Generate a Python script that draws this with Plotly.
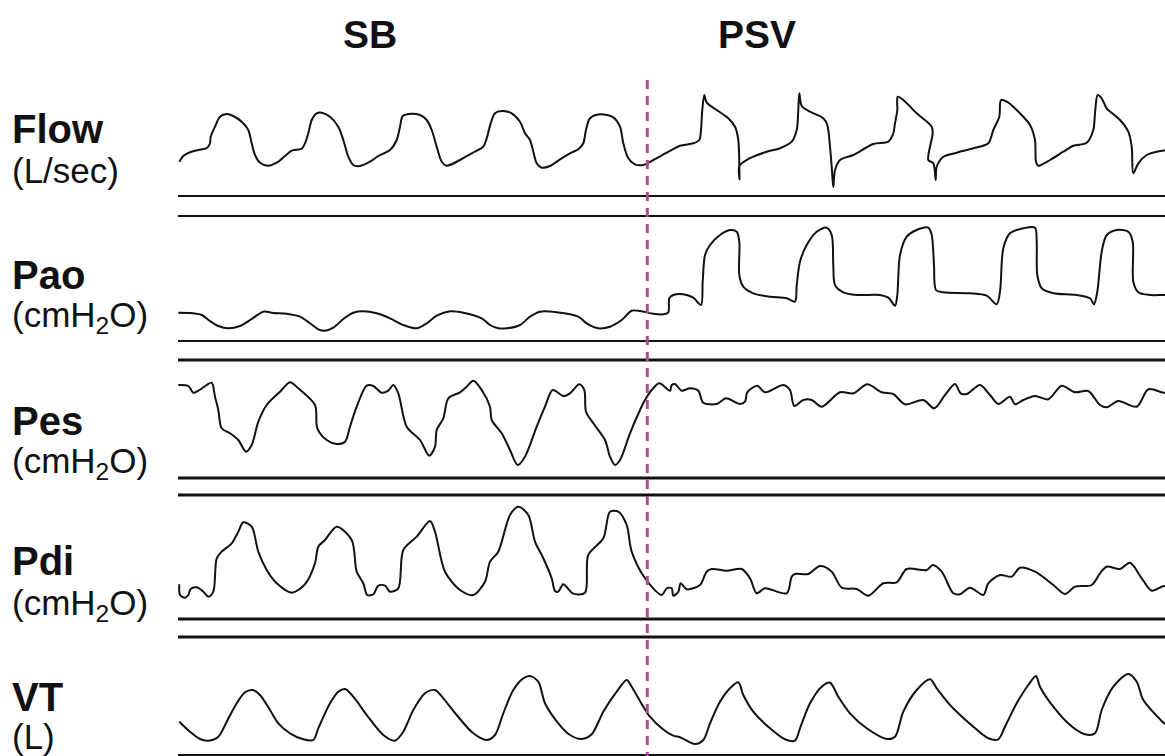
import plotly.graph_objects as go

flow_t = [0.013,0.053,0.12,0.203,0.293,0.32,0.327,0.37,0.42,0.487,0.553,0.637,0.703,0.737,0.77,0.82,0.903,0.987,
          1.07,1.137,1.237,1.27,1.303,1.337,1.387,1.437,1.52,1.603,1.653,1.703,1.753,1.82,1.92,2.003,2.12,2.187,
          2.22,2.247,2.303,2.42,2.487,2.537,2.587,2.637,2.687,2.82,2.937,3.053,3.087,3.127,3.17,3.237,3.337,3.42,
          3.47,3.52,3.553,3.587,3.637,3.72,3.82,3.92,4.003,4.053,4.08,4.12,4.22,4.353,4.42,4.453,4.503,4.57,
          4.653,4.753,4.887,5.02,5.153,5.213,5.23,5.243,5.263,5.287,5.387,5.503,5.57,5.603,5.615,5.613,5.687,
          5.753,5.887,6.02,6.137,6.187,6.203,6.213,6.237,6.32,6.453,6.493,6.52,6.537,6.553,6.57,6.62,6.753,
          6.953,7.103,7.153,7.17,7.193,7.197,7.253,7.387,7.537,7.547,7.503,7.553,7.577,7.587,7.653,7.787,7.953,
          8.103,8.153,8.213,8.23,8.287,8.42,8.52,8.57,8.58,8.603,8.72,8.853,8.953,9.087,9.153,9.17,9.197,9.237,
          9.287,9.42,9.503,9.537,9.553,9.603,9.687,9.837,9.87]
flow_v = [0.083,0.14,0.177,0.20,0.223,0.267,0.333,0.433,0.533,0.56,0.54,0.483,0.40,0.267,0.15,0.073,0.043,0.073,
          0.14,0.193,0.213,0.267,0.367,0.50,0.567,0.573,0.533,0.433,0.30,0.133,0.05,0.04,0.083,0.14,0.20,0.30,
          0.433,0.54,0.56,0.55,0.50,0.40,0.233,0.083,0.043,0.10,0.167,0.233,0.317,0.467,0.567,0.59,0.567,0.483,
          0.367,0.30,0.183,0.067,0.023,0.04,0.107,0.167,0.207,0.267,0.40,0.517,0.557,0.527,0.433,0.267,0.117,0.057,
          0.05,0.10,0.173,0.243,0.267,0.30,0.40,0.60,0.75,0.673,0.60,0.517,0.433,0.30,-0.093,0.04,0.10,
          0.133,0.183,0.217,0.283,0.40,0.60,0.767,0.64,0.583,0.517,0.45,0.233,0.033,-0.173,0.0,0.10,0.15,
          0.26,0.283,0.367,0.467,0.60,0.733,0.70,0.567,0.433,0.367,0.10,0.067,-0.10,0.033,0.133,0.173,0.217,
          0.267,0.40,0.533,0.70,0.683,0.567,0.45,0.30,0.083,0.043,0.10,0.183,0.243,0.273,0.40,0.567,0.75,0.717,
          0.617,0.50,0.383,0.233,-0.033,0.067,0.15,0.193,0.195]

pao_t = [0.003,0.12,0.237,0.32,0.403,0.503,0.62,0.737,0.853,0.953,1.087,1.22,1.32,1.403,1.47,1.553,1.653,1.753,
         1.853,1.987,2.12,2.253,2.387,2.487,2.587,2.72,2.853,3.037,3.12,3.203,3.287,3.42,3.52,3.62,3.787,4.003,
         4.087,4.203,4.32,4.437,4.537,4.62,4.753,4.853,4.903,4.913,4.953,5.053,5.153,5.23,5.247,5.27,5.32,5.42,
         5.52,5.587,5.613,5.613,5.653,5.753,5.92,6.087,6.17,6.187,6.22,6.287,6.387,6.487,6.537,6.553,6.57,6.653,
         6.787,7.02,7.103,7.17,7.193,7.22,7.287,7.387,7.503,7.537,7.56,7.58,7.653,7.92,8.087,8.187,8.22,8.253,
         8.32,8.453,8.57,8.587,8.593,8.637,8.753,8.987,9.12,9.16,9.193,9.237,9.287,9.387,9.503,9.547,9.553,
         9.603,9.72,9.837,9.87]
pao_v = [3.46,3.4,3.0,1.8,0.8,0.34,0.8,2.2,3.66,3.4,3.26,2.66,1.34,0.14,-0.14,0.46,2.2,3.46,
         3.74,3.34,2.34,1.0,0.34,1.34,2.86,3.74,3.46,2.34,1.0,0.34,0.34,1.0,2.66,3.66,3.54,2.66,
         1.34,0.34,0.66,2.0,3.86,3.8,3.26,3.14,3.54,6.34,7.0,7.14,6.46,5.0,9.66,15.0,17.0,19.0,
         20.0,19.66,17.66,11.0,8.66,7.34,6.66,6.34,5.66,9.0,13.66,17.0,19.66,20.46,19.0,13.0,9.0,7.54,
         7.0,7.0,6.46,4.86,7.0,15.0,18.66,20.0,20.46,19.0,13.0,8.0,7.54,7.34,6.86,5.14,7.66,16.34,
         19.34,20.34,20.46,17.66,11.0,8.34,7.34,7.0,6.34,5.14,7.66,15.66,19.0,20.0,19.66,17.66,9.66,
         7.54,7.0,7.0,7.0]

pes_t = [0.003,0.103,0.153,0.203,0.287,0.337,0.37,0.403,0.437,0.52,0.603,0.68,0.737,0.803,0.887,1.02,1.12,1.203,
         1.37,1.393,1.487,1.587,1.67,1.72,1.787,1.887,1.953,2.037,2.103,2.153,2.203,2.287,2.42,2.513,2.57,2.587,
         2.653,2.703,2.82,2.887,2.953,3.037,3.12,3.137,3.237,3.32,3.397,3.47,3.587,3.67,3.747,3.853,3.92,4.013,
         4.063,4.08,4.153,4.27,4.32,4.37,4.42,4.52,4.62,4.67,4.737,4.813,4.92,4.937,4.97,5.037,5.12,5.203,
         5.253,5.387,5.48,5.62,5.67,5.693,5.793,5.87,6.053,6.12,6.163,6.253,6.337,6.437,6.62,6.753,6.893,7.037,
         7.153,7.27,7.453,7.563,7.67,7.77,7.827,7.887,8.02,8.12,8.203,8.32,8.37,8.453,8.57,8.703,8.837,8.97,
         9.103,9.22,9.287,9.403,9.587,9.703,9.837,9.87]
pes_v = [-1.0,-1.2,-2.54,-2.14,-1.0,-0.54,-3.34,-6.0,-9.66,-10.66,-12.0,-14.34,-13.0,-8.34,-5.0,-2.34,-0.46,-1.66,
         -5.0,-9.66,-12.0,-12.8,-12.34,-9.34,-5.34,-1.14,-1.2,-2.54,-2.14,-1.0,-2.66,-9.34,-12.0,-15.14,-13.34,-10.0,
         -7.66,-3.66,-2.46,-1.34,-0.14,-2.0,-5.34,-8.0,-10.66,-14.0,-17.0,-15.34,-9.34,-5.34,-2.0,-3.2,-2.66,-0.86,
         -2.0,-6.34,-8.66,-12.0,-15.34,-17.0,-16.0,-10.66,-6.0,-4.0,-2.0,-0.66,-2.14,-1.0,-0.8,-2.14,-1.66,-2.14,
         -4.54,-4.8,-3.66,-4.8,-4.34,-2.46,-1.14,-2.46,-1.0,-2.0,-5.2,-4.0,-4.0,-5.34,-2.46,-2.66,-0.86,-2.46,
         -2.8,-4.86,-4.0,-5.66,-3.0,-0.8,-2.66,-2.8,-1.0,-3.0,-4.8,-3.34,-4.86,-4.0,-3.2,-3.86,-1.14,-2.46,
         -2.2,-5.0,-5.46,-4.2,-5.34,-1.86,-2.46,-2.6]

pdi_t = [0.013,0.02,0.07,0.103,0.127,0.187,0.253,0.303,0.353,0.387,0.437,0.537,0.603,0.653,0.737,0.803,0.887,0.987,
         1.137,1.27,1.37,1.403,1.47,1.587,1.737,1.787,1.853,1.893,1.953,2.003,2.07,2.12,2.203,2.253,2.387,2.52,
         2.57,2.67,2.82,2.953,3.07,3.12,3.203,3.32,3.403,3.503,3.57,3.653,3.737,3.77,3.803,3.853,3.953,4.07,
         4.103,4.253,4.32,4.403,4.487,4.537,4.67,4.837,4.887,4.937,4.953,5.003,5.027,5.087,5.22,5.287,5.337,5.487,
         5.637,5.72,5.787,5.87,6.087,6.137,6.17,6.303,6.42,6.537,6.637,6.787,6.903,7.053,7.187,7.287,7.487,7.547,
         7.637,7.753,7.82,7.92,8.053,8.103,8.22,8.337,8.42,8.57,8.753,8.87,8.97,9.137,9.22,9.287,9.42,9.52,
         9.637,9.737,9.837,9.87]
pdi_v = [3.93,1.25,0.58,1.25,2.75,3.18,2.08,0.83,2.08,10.43,12.08,14.18,17.08,19.43,18.33,12.08,7.5,4.18,
         1.83,3.93,9.18,13.33,15.0,18.33,15.0,7.08,4.18,1.25,1.43,3.58,3.58,2.08,2.93,12.5,15.83,19.75,
         17.08,7.08,2.5,1.25,4.58,9.58,12.08,21.25,23.33,21.25,14.58,10.43,5.43,2.25,2.08,3.93,1.58,1.83,
         11.25,15.43,22.08,22.08,18.75,12.08,5.43,1.25,2.93,2.93,1.08,2.08,4.18,2.68,3.75,7.08,7.75,7.33,
         7.75,5.43,1.68,2.93,1.68,5.83,6.5,6.5,8.5,7.08,3.08,2.75,1.08,4.18,4.43,7.75,7.5,8.75,
         7.08,1.68,1.43,3.08,1.25,4.18,6.25,5.83,8.08,7.08,3.75,1.5,3.33,3.75,6.68,8.33,7.75,9.33,
         5.43,2.33,3.33,3.5]

vt_t = [0.013,0.12,0.22,0.303,0.403,0.487,0.587,0.67,0.747,0.82,0.92,1.003,1.12,1.253,1.353,1.403,1.52,1.603,
        1.67,1.753,1.887,2.053,2.17,2.253,2.353,2.47,2.57,2.653,2.787,2.953,3.087,3.17,3.253,3.353,3.453,3.52,
        3.603,3.67,3.803,3.92,4.037,4.137,4.253,4.387,4.487,4.537,4.653,4.72,4.837,4.953,5.02,5.17,5.253,5.32,
        5.42,5.52,5.603,5.653,5.753,5.92,6.07,6.17,6.22,6.32,6.437,6.52,6.603,6.72,6.887,7.087,7.17,7.253,
        7.387,7.52,7.587,7.72,7.953,8.103,8.203,8.27,8.387,8.503,8.58,8.62,8.753,8.92,9.07,9.17,9.237,9.353,
        9.503,9.587,9.653,9.837,9.87]
vt_v = [0.233,0.133,0.06,0.043,0.083,0.233,0.417,0.527,0.55,0.50,0.35,0.217,0.117,0.057,0.05,0.167,0.417,0.533,
        0.56,0.483,0.30,0.10,0.043,0.133,0.35,0.517,0.55,0.467,0.30,0.117,0.05,0.10,0.317,0.55,0.667,0.69,
        0.633,0.417,0.217,0.10,0.06,0.107,0.333,0.533,0.65,0.583,0.383,0.283,0.167,0.093,0.077,0.01,0.05,0.217,
        0.433,0.567,0.627,0.50,0.333,0.167,0.057,0.043,0.167,0.417,0.583,0.623,0.483,0.317,0.167,0.06,0.083,0.333,
        0.55,0.657,0.567,0.40,0.183,0.067,0.057,0.183,0.417,0.60,0.69,0.583,0.383,0.20,0.107,0.117,0.35,0.583,
        0.71,0.633,0.45,0.24,0.21]

mode_switch_t = 4.693          # SB -> PSV transition (s)
phase_labels = ["SB", "PSV"]
phase_label_t = [1.92, 5.79]   # centre of each phase label (s)

channel_names = ["Flow", "Pao", "Pes", "Pdi", "VT"]
channel_units = ["(L/sec)", "(cmH<sub>2</sub>O)", "(cmH<sub>2</sub>O)", "(cmH<sub>2</sub>O)", "(L)"]

# ---------------- layout helpers ----------------
W, H = 1165, 756
def py(p):  # pixel row -> paper y
    return 1 - p / H

FONT = "Liberation Sans, Arial, sans-serif"
LINE = dict(color="#111111", width=2)
SHAPE_SMOOTH = 0.85

fig = go.Figure()
series = [(flow_t, flow_v, "y"), (pao_t, pao_v, "y2"), (pes_t, pes_v, "y3"),
          (pdi_t, pdi_v, "y4"), (vt_t, vt_v, "y5")]
for (t, v, ya), name in zip(series, channel_names):
    fig.add_trace(go.Scatter(x=t, y=v, yaxis=ya, mode="lines", name=name,
                             line=dict(**LINE, shape="spline", smoothing=SHAPE_SMOOTH),
                             showlegend=False, hoverinfo="skip"))

# panel geometry (pixel rows top/bottom) and value ranges
panels = [
    ("yaxis",  (80, 196), [-0.26, 0.90]),
    ("yaxis2", (216, 341), [-2.2, 22.8]),
    ("yaxis3", (361, 478), [-19.6, 3.8]),
    ("yaxis4", (496, 619), [-4.75, 26.0]),
    ("yaxis5", (640, 755), [-0.10, 1.05]),
]
layout_axes = {}
for key, (top, bot), rng in panels:
    layout_axes[key] = dict(domain=[py(bot), py(top)], range=rng, visible=False,
                            anchor="x", fixedrange=True)

fig.update_layout(
    width=W, height=H, margin=dict(l=0, r=0, t=0, b=0),
    paper_bgcolor="white", plot_bgcolor="white",
    xaxis=dict(domain=[178 / W, 1.0], range=[0, 9.87], visible=False, fixedrange=True),
    **layout_axes,
)

# separator double lines under each channel
sep_rows = [(196, 1.8), (216, 1.8), (341, 1.8), (360, 2.8), (478, 2.8), (495, 2.8),
            (619, 2.8), (637, 2.8), (755, 1.8)]
for row, w in sep_rows:
    fig.add_shape(type="line", xref="paper", yref="paper", x0=178 / W, x1=1.0,
                  y0=py(row), y1=py(row), line=dict(color="#111111", width=w))

# mode-switch dashed line
fig.add_shape(type="line", xref="x", yref="paper", x0=mode_switch_t, x1=mode_switch_t,
              y0=py(80), y1=0, line=dict(color="#b0489d", width=3, dash="9px,7px"))

# phase labels
for lab, t in zip(phase_labels, phase_label_t):
    fig.add_annotation(x=t, xref="x", y=py(35), yref="paper", text=f"<b>{lab}</b>",
                       showarrow=False, xanchor="center", yanchor="middle",
                       font=dict(family=FONT, size=39, color="#111111"))

# channel labels
name_rows = [129, 275, 421, 561, 697]
unit_rows = [171, 317, 463, 605, 736]
for n, u, r1, r2 in zip(channel_names, channel_units, name_rows, unit_rows):
    fig.add_annotation(x=10 / W, xref="paper", y=py(r1), yref="paper", text=f"<b>{n}</b>",
                       showarrow=False, xanchor="left", yanchor="middle",
                       font=dict(family=FONT, size=40, color="#111111"))
    fig.add_annotation(x=10 / W, xref="paper", y=py(r2), yref="paper", text=u,
                       showarrow=False, xanchor="left", yanchor="middle",
                       font=dict(family=FONT, size=35, color="#111111"))

fig.write_html("out.html")
